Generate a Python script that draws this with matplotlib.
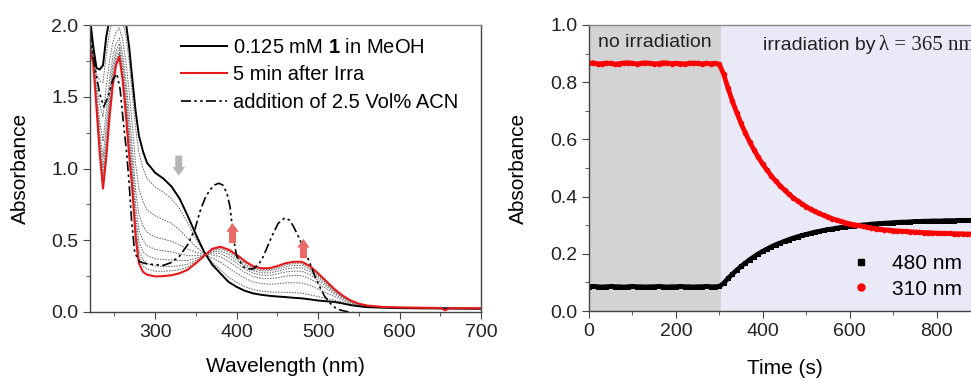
import numpy as np
import matplotlib
matplotlib.use("Agg")
import matplotlib.pyplot as plt
from matplotlib.lines import Line2D
from matplotlib.ticker import MultipleLocator

plt.rcParams["font.family"] = ["Liberation Sans", "DejaVu Sans"]
plt.rcParams["mathtext.fontset"] = "custom"
plt.rcParams["mathtext.rm"] = "Liberation Sans"
plt.rcParams["mathtext.bf"] = "Liberation Sans:bold"

# ---- left panel: UV-vis spectra ----
wl = [220, 224, 228, 232, 236, 240, 244, 248, 252, 256, 260, 264, 268, 272, 276, 280, 285, 290,
      300, 310, 320, 330, 340, 350, 360, 370, 380, 390, 400, 410, 420, 430, 440, 450, 460, 470,
      480, 490, 500, 510, 520, 530, 540, 550, 560, 580, 600, 700]
abs_start = [2.05, 1.85, 1.70, 1.69, 1.72, 1.92, 2.04, 2.10, 2.12, 2.12, 2.10, 2.02, 1.85, 1.62, 1.40, 1.23, 1.12, 1.04,
             0.97, 0.93, 0.875, 0.79, 0.67, 0.54, 0.42, 0.33, 0.27, 0.21, 0.175, 0.148, 0.13, 0.12, 0.113, 0.108, 0.104, 0.099,
             0.095, 0.088, 0.08, 0.075, 0.07, 0.06, 0.048, 0.04, 0.034, 0.03, 0.027, 0.022]

wl_red = wl[:-1] + [650, 656, 662, 700]
abs_irra = [1.84, 1.73, 1.42, 1.10, 0.86, 1.08, 1.36, 1.58, 1.72, 1.78, 1.62, 1.38, 1.10, 0.85, 0.52, 0.34, 0.28, 0.26,
            0.248, 0.25, 0.256, 0.27, 0.295, 0.34, 0.39, 0.44, 0.455, 0.435, 0.40, 0.355, 0.32, 0.305, 0.305, 0.32, 0.34, 0.35,
            0.35, 0.32, 0.27, 0.215, 0.16, 0.115, 0.08, 0.058, 0.045, 0.035, 0.032, 0.028, 0.012, 0.027, 0.026]

wl_acn = [220, 226, 232, 237, 242, 248, 253, 257, 261, 265, 268, 271, 275, 281, 290, 300, 310, 320, 330, 340,
          349, 355, 361, 367, 373, 378, 383, 388, 392, 396, 400, 408, 414, 420, 427, 433, 443, 451, 459, 465,
          470, 478, 484, 490, 496, 502, 508, 515, 521, 527, 535, 543, 550]
abs_acn = [1.95, 1.70, 1.52, 1.43, 1.50, 1.62, 1.66, 1.55, 1.32, 1.11, 0.90, 0.64, 0.41, 0.35, 0.335, 0.33, 0.325, 0.345, 0.39, 0.47,
           0.58, 0.70, 0.79, 0.85, 0.885, 0.897, 0.885, 0.83, 0.73, 0.52, 0.39, 0.316, 0.30, 0.30, 0.33, 0.39, 0.525, 0.618, 0.655, 0.64,
           0.594, 0.50, 0.42, 0.34, 0.25, 0.176, 0.11, 0.06, 0.03, 0.014, 0.003, -0.005, -0.02]

# intermediate spectra during irradiation (dotted), on the wl grid
mid_1 = [2.02, 1.83, 1.66, 1.61, 1.60, 1.80, 1.95, 2.03, 2.06, 2.07, 2.03, 1.93, 1.75, 1.51, 1.28, 1.11, 1.00, 0.93,
         0.87, 0.835, 0.79, 0.72, 0.62, 0.51, 0.42, 0.345, 0.296, 0.242, 0.207, 0.177, 0.157, 0.146, 0.14, 0.138, 0.137, 0.134,
         0.131, 0.12, 0.107, 0.095, 0.083, 0.068, 0.052, 0.043, 0.036, 0.031, 0.028, 0.023]
mid_2 = [1.96, 1.80, 1.58, 1.44, 1.36, 1.57, 1.75, 1.88, 1.95, 1.98, 1.90, 1.75, 1.54, 1.30, 1.03, 0.86, 0.77, 0.71,
         0.67, 0.644, 0.618, 0.572, 0.513, 0.456, 0.407, 0.376, 0.348, 0.307, 0.27, 0.235, 0.21, 0.198, 0.194, 0.197, 0.203, 0.204,
         0.202, 0.185, 0.16, 0.134, 0.108, 0.083, 0.061, 0.048, 0.039, 0.032, 0.029, 0.024]
mid_3 = [1.92, 1.78, 1.53, 1.32, 1.19, 1.40, 1.62, 1.78, 1.87, 1.91, 1.80, 1.62, 1.39, 1.14, 0.85, 0.68, 0.60, 0.556,
         0.522, 0.508, 0.493, 0.468, 0.438, 0.416, 0.401, 0.398, 0.385, 0.353, 0.315, 0.276, 0.248, 0.235, 0.232, 0.239, 0.25, 0.255,
         0.253, 0.232, 0.198, 0.162, 0.126, 0.094, 0.068, 0.051, 0.041, 0.033, 0.030, 0.025]
mid_4 = [1.90, 1.76, 1.49, 1.25, 1.08, 1.30, 1.54, 1.72, 1.82, 1.87, 1.75, 1.55, 1.30, 1.05, 0.75, 0.57, 0.50, 0.463,
         0.436, 0.427, 0.418, 0.405, 0.393, 0.392, 0.398, 0.411, 0.407, 0.38, 0.342, 0.301, 0.271, 0.257, 0.255, 0.265, 0.279, 0.285,
         0.284, 0.26, 0.221, 0.179, 0.137, 0.101, 0.072, 0.053, 0.042, 0.034, 0.031, 0.025]
mid_5 = [1.88, 1.75, 1.47, 1.20, 1.01, 1.22, 1.48, 1.67, 1.79, 1.84, 1.70, 1.49, 1.23, 0.98, 0.67, 0.49, 0.42, 0.393,
         0.371, 0.366, 0.362, 0.358, 0.359, 0.374, 0.395, 0.421, 0.424, 0.401, 0.362, 0.32, 0.288, 0.274, 0.272, 0.284, 0.30, 0.307,
         0.307, 0.281, 0.238, 0.191, 0.145, 0.106, 0.075, 0.055, 0.043, 0.034, 0.031, 0.025]
mid_6 = [1.86, 1.74, 1.45, 1.16, 0.95, 1.16, 1.43, 1.63, 1.76, 1.81, 1.67, 1.44, 1.18, 0.93, 0.61, 0.43, 0.364, 0.338,
         0.32, 0.318, 0.318, 0.322, 0.333, 0.36, 0.393, 0.429, 0.437, 0.417, 0.378, 0.334, 0.301, 0.287, 0.286, 0.299, 0.316, 0.325,
         0.325, 0.297, 0.251, 0.201, 0.151, 0.11, 0.077, 0.056, 0.044, 0.035, 0.032, 0.026]
mid_7 = [1.85, 1.74, 1.43, 1.13, 0.90, 1.12, 1.39, 1.61, 1.74, 1.80, 1.64, 1.41, 1.14, 0.89, 0.56, 0.385, 0.322, 0.299,
         0.284, 0.284, 0.287, 0.296, 0.314, 0.35, 0.392, 0.435, 0.446, 0.429, 0.389, 0.345, 0.31, 0.296, 0.295, 0.309, 0.328, 0.337,
         0.337, 0.308, 0.26, 0.208, 0.155, 0.112, 0.078, 0.057, 0.045, 0.035, 0.032, 0.026]
mid_spectra = [mid_1, mid_2, mid_3, mid_4, mid_5, mid_6, mid_7]

# ---- right panel: kinetics ----
time_s = np.arange(0, 910, 10)
abs_310 = [0.866, 0.868, 0.864, 0.865, 0.867, 0.866, 0.863, 0.865, 0.867, 0.868, 0.866, 0.864, 0.866, 0.868, 0.866, 0.864,
           0.865, 0.868, 0.867, 0.865, 0.866, 0.865, 0.864, 0.866, 0.867, 0.866, 0.864, 0.866, 0.865, 0.866, 0.862,
           0.828, 0.779, 0.734, 0.694, 0.656, 0.622, 0.591, 0.563, 0.537, 0.513, 0.492, 0.472, 0.454, 0.438, 0.423, 0.409,
           0.396, 0.385, 0.375, 0.365, 0.356, 0.348, 0.341, 0.335, 0.329, 0.323, 0.318, 0.313, 0.309, 0.305, 0.302, 0.299,
           0.296, 0.293, 0.291, 0.288, 0.286, 0.284, 0.283, 0.281,
           0.280, 0.279, 0.278, 0.277, 0.276, 0.275, 0.274, 0.274, 0.273, 0.272, 0.272, 0.271, 0.271, 0.270, 0.270, 0.270,
           0.269, 0.269, 0.269, 0.268]
abs_480 = [0.085, 0.086, 0.085, 0.084, 0.085, 0.086, 0.085, 0.085, 0.084, 0.085, 0.086, 0.085, 0.085, 0.084, 0.085, 0.085,
           0.086, 0.085, 0.084, 0.085, 0.085, 0.086, 0.085, 0.085, 0.084, 0.085, 0.085, 0.086, 0.085, 0.085, 0.086,
           0.097, 0.114, 0.129, 0.143, 0.156, 0.168, 0.180, 0.190, 0.200, 0.209, 0.217, 0.225, 0.232, 0.238, 0.244, 0.250,
           0.255, 0.260, 0.264, 0.268, 0.272, 0.276, 0.279, 0.282, 0.285, 0.287, 0.290, 0.292, 0.294, 0.296, 0.298, 0.299,
           0.301, 0.302, 0.304, 0.305, 0.306, 0.307, 0.308, 0.309,
           0.310, 0.311, 0.311, 0.312, 0.313, 0.313, 0.314, 0.314, 0.315, 0.315, 0.315, 0.316, 0.316, 0.316, 0.317, 0.317,
           0.317, 0.317, 0.318, 0.318]
dark_end = 303

frame = "#444444"
fig = plt.figure(figsize=(9.71, 3.79), dpi=100)
ax1 = fig.add_axes([90 / 971, 67 / 379, 391 / 971, 287 / 379])
ax2 = fig.add_axes([589 / 971, 68 / 379, 391 / 971, 286 / 379])

for ax in (ax1, ax2):
    for s in ax.spines.values():
        s.set_color(frame)
        s.set_linewidth(1.0)
    ax.spines["top"].set_color("#888888")
    ax.tick_params(which="both", direction="out", top=False, right=False, colors=frame,
                   labelcolor="#222222", labelsize=14)
    ax.tick_params(which="major", length=5)
    ax.tick_params(which="minor", length=3)

# left panel
for m in mid_spectra:
    ax1.plot(wl, m, color="#666666", lw=0.7, ls=(0, (1.6, 1.2)))
ax1.plot(wl, abs_start, color="black", lw=1.4, label=r"0.125 mM $\mathbf{1}$ in MeOH")
ax1.plot(wl_red, abs_irra, color="#e8191c", lw=1.5, label="5 min after Irra")
ax1.plot(wl_acn, abs_acn, color="black", lw=1.2, dashes=(6, 2, 1.5, 2, 1.5, 2),
         label="addition of 2.5 Vol% ACN")

arrow_kw = "simple,head_width=0.5,head_length=0.35,tail_width=0.28"
ax1.annotate("", xy=(329, 0.95), xytext=(329, 1.09),
             arrowprops=dict(arrowstyle=arrow_kw, color="#b5b5b5", lw=0, mutation_scale=18,
                             shrinkA=0, shrinkB=0))
ax1.annotate("", xy=(395, 0.62), xytext=(395, 0.48),
             arrowprops=dict(arrowstyle=arrow_kw, color="#ea6a6a", lw=0, mutation_scale=18,
                             shrinkA=0, shrinkB=0))
ax1.annotate("", xy=(482, 0.51), xytext=(482, 0.375),
             arrowprops=dict(arrowstyle=arrow_kw, color="#ea6a6a", lw=0, mutation_scale=18,
                             shrinkA=0, shrinkB=0))

ax1.set_xlim(220, 700)
ax1.set_ylim(0, 2.0)
ax1.xaxis.set_major_locator(MultipleLocator(100))
ax1.xaxis.set_minor_locator(MultipleLocator(50))
ax1.yaxis.set_major_locator(MultipleLocator(0.5))
ax1.yaxis.set_minor_locator(MultipleLocator(0.25))
ax1.set_xticks([300, 400, 500, 600, 700])
ax1.yaxis.set_major_formatter(matplotlib.ticker.FormatStrFormatter("%.1f"))
ax1.set_xlabel("Wavelength (nm)", fontsize=15, labelpad=12)
ax1.set_ylabel("Absorbance", fontsize=15, labelpad=15)
ax1.legend(loc="upper left", bbox_to_anchor=(0.232, 0.955), frameon=False, fontsize=14.5,
           handlelength=2.3, handletextpad=0.3, labelspacing=0.42, borderpad=0, borderaxespad=0)

# right panel
ax2.axvspan(0, dark_end, color="#d3d3d3", lw=0, zorder=0)
ax2.axvspan(dark_end, 900, color="#e9e9f8", lw=0, zorder=0)
ax2.plot(time_s, abs_480, color="black", lw=3.4, marker="s", ms=3.6, mew=0)
ax2.plot(time_s, abs_310, color="#ff0000", lw=3.4, marker="o", ms=4.0, mew=0)
ax2.text(20, 0.94, "no irradiation", fontsize=14, va="center", ha="left", color="#222222")
ax2.text(400, 0.93, "irradiation by", fontsize=14, va="center", ha="left", color="#222222")
ax2.text(668, 0.93, "λ = 365 nm", fontsize=15, va="center", ha="left", color="#222222",
         family=["Liberation Serif", "DejaVu Serif"])

handles = [Line2D([], [], ls="none", marker="s", ms=5, color="black"),
           Line2D([], [], ls="none", marker="o", ms=5, color="#ff0000")]
ax2.legend(handles, ["480 nm", "310 nm"], loc="upper left", bbox_to_anchor=(0.668, 0.198),
           frameon=False, fontsize=15, handlelength=1.0, handletextpad=1.0, labelspacing=0.3,
           borderpad=0, borderaxespad=0)

ax2.set_xlim(0, 900)
ax2.set_ylim(0, 1.0)
ax2.xaxis.set_major_locator(MultipleLocator(200))
ax2.xaxis.set_minor_locator(MultipleLocator(100))
ax2.yaxis.set_major_locator(MultipleLocator(0.2))
ax2.yaxis.set_minor_locator(MultipleLocator(0.1))
ax2.yaxis.set_major_formatter(matplotlib.ticker.FormatStrFormatter("%.1f"))
ax2.set_xlabel("Time (s)", fontsize=15, labelpad=14)
ax2.set_ylabel("Absorbance", fontsize=15, labelpad=16)

fig.savefig("out.png", dpi=100)
